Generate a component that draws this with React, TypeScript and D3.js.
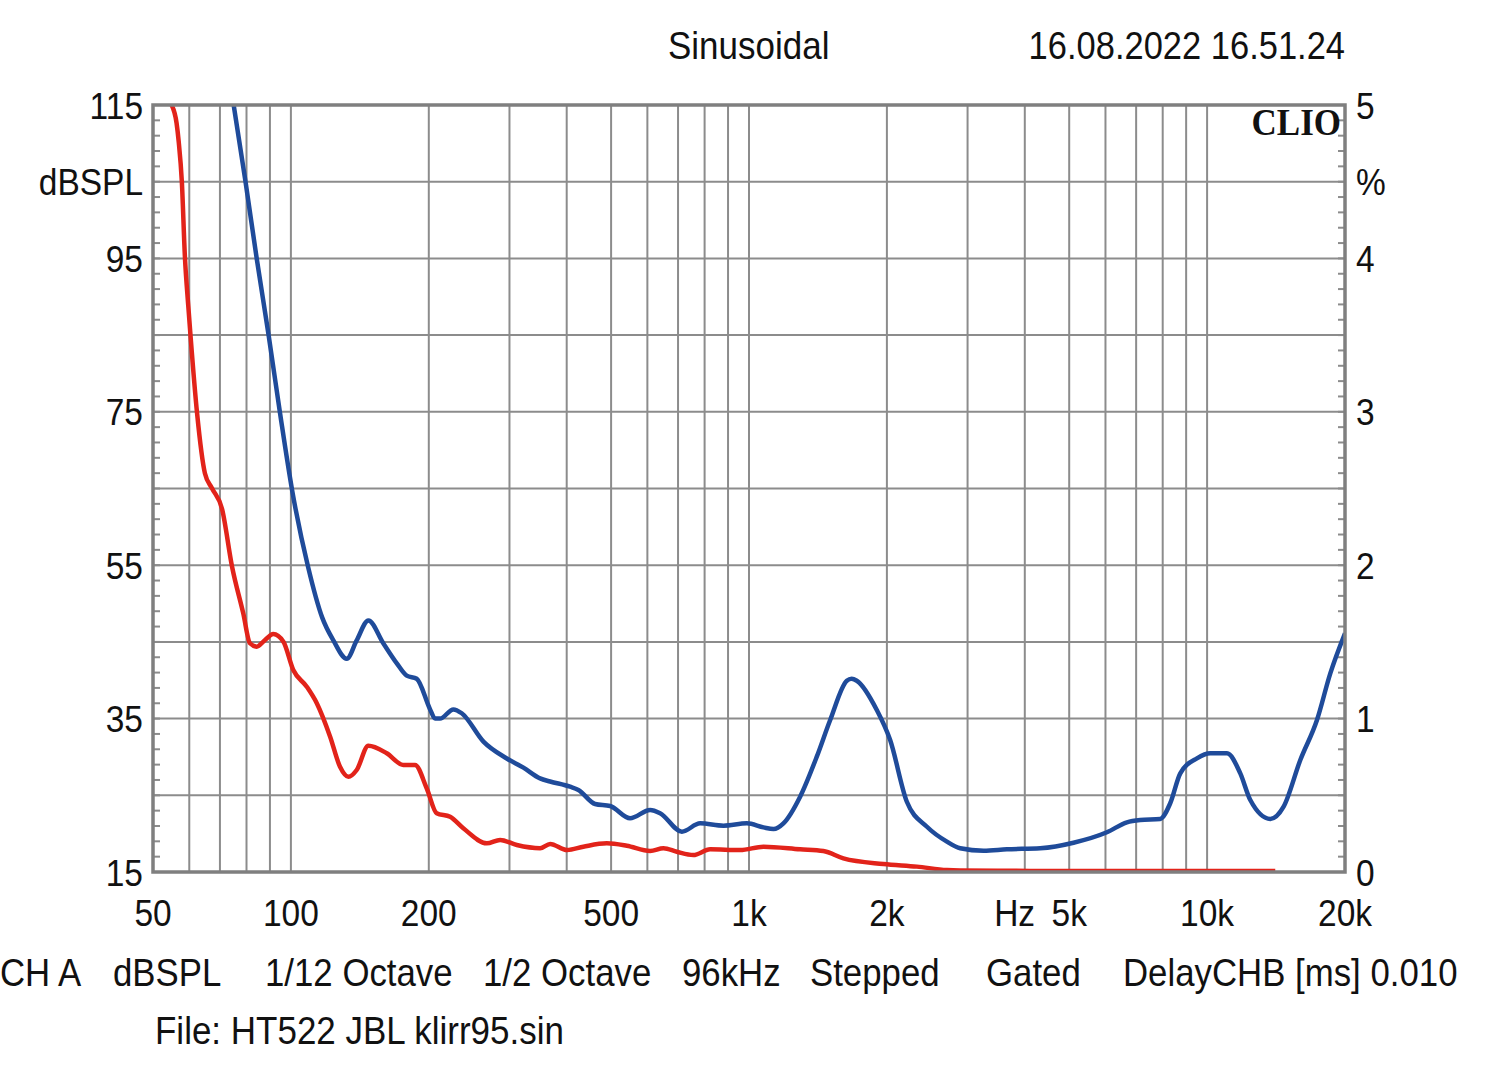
import React from "react";
import * as d3 from "d3";

// ---- data ----
const blueFreq = [75, 79.6, 84.3, 89.4, 94.7, 100.6, 109, 117, 123.8, 132.4, 139.2, 147.6, 159.2, 170.3, 179, 188.2, 201.3, 206.4, 211.6, 226.3, 236, 263.2, 296, 321.8, 349.9, 368, 406.9, 424.2, 461.4, 497.5, 550, 608.4, 639.6, 713.6, 782.2, 879.6, 989.6, 1075.6, 1131, 1189, 1293, 1406, 1504, 1635, 1675, 1719, 1901, 2033, 2211, 2446, 2704, 2891, 3251, 3655, 4322, 5110, 6043, 6683, 7145, 7900, 8308, 8739, 9502, 10163, 11052, 11816, 12425, 13740, 14690, 15976, 17372, 18576, 20000];
const bluePct = [5.0, 4.5, 3.99, 3.5, 2.99, 2.49, 1.99, 1.66, 1.51, 1.39, 1.51, 1.64, 1.49, 1.36, 1.28, 1.26, 1.06, 1.0, 1.0, 1.06, 1.035, 0.85, 0.74, 0.68, 0.61, 0.59, 0.556, 0.535, 0.443, 0.43, 0.35, 0.404, 0.383, 0.263, 0.317, 0.302, 0.317, 0.291, 0.28, 0.317, 0.491, 0.752, 0.991, 1.247, 1.26, 1.247, 1.056, 0.86, 0.458, 0.295, 0.198, 0.155, 0.139, 0.148, 0.155, 0.191, 0.259, 0.324, 0.339, 0.346, 0.448, 0.643, 0.741, 0.774, 0.774, 0.643, 0.469, 0.346, 0.426, 0.73, 0.991, 1.295, 1.556];

const redFreq = [54.9, 56.3, 56.9, 57.8, 58.7, 59.7, 60.4, 62.4, 64.9, 67.3, 70.7, 74.4, 78.7, 81.4, 84.2, 87.8, 91.5, 96.3, 101.2, 108.3, 113.9, 121.8, 128, 133.5, 139.2, 147.6, 161.9, 176, 186.6, 197.9, 208.1, 222.6, 237.9, 267.7, 286.2, 311.3, 349.9, 368, 400.8, 435, 489.3, 541, 608.4, 650.5, 695.8, 756, 822.6, 956.4, 1075.6, 1293, 1453, 1607, 1965, 2325, 2704, 2891, 3500, 5000, 8000, 11000, 14086];
const redPct = [5.0, 4.88, 4.76, 4.5, 4.01, 3.69, 3.49, 2.99, 2.6, 2.5, 2.37, 1.99, 1.686, 1.491, 1.469, 1.512, 1.551, 1.501, 1.317, 1.208, 1.1, 0.882, 0.686, 0.621, 0.665, 0.823, 0.774, 0.698, 0.698, 0.546, 0.383, 0.36, 0.285, 0.187, 0.209, 0.176, 0.155, 0.183, 0.143, 0.165, 0.187, 0.171, 0.137, 0.155, 0.132, 0.111, 0.148, 0.143, 0.165, 0.148, 0.137, 0.089, 0.052, 0.035, 0.013, 0.01, 0.008, 0.007, 0.007, 0.007, 0.007];

const xTickValues = [50, 100, 200, 500, 1000, 2000, 5000, 10000, 20000];
const xTickLabels = ["50", "100", "200", "500", "1k", "2k", "5k", "10k", "20k"];
const leftTickValues = [115, 95, 75, 55, 35, 15];
const rightTickValues = [5, 4, 3, 2, 1, 0];
const bottomInfo = [
  { text: "CH A", x: 0 },
  { text: "dBSPL", x: 113 },
  { text: "1/12 Octave", x: 265 },
  { text: "1/2 Octave", x: 483 },
  { text: "96kHz", x: 682 },
  { text: "Stepped", x: 810 },
  { text: "Gated", x: 986 },
  { text: "DelayCHB [ms] 0.010", x: 1123 },
];

const W = 1500;
const H = 1074;
const L = 153, R = 1345, T = 105, B = 872;
const FONT = "'Liberation Sans', Arial, sans-serif";
const GRID = "#8c8c8c";
const SY = 1.12;

function Txt(props: { x: number; y: number; size: number; anchor?: string; children: React.ReactNode }) {
  const { x, y, size, anchor, children } = props;
  return (
    <text
      transform={`translate(${x},${y}) scale(1,${SY})`}
      dy="0.36em"
      textAnchor={anchor || "start"}
      fontSize={size}
      fontFamily={FONT}
      fill="#111"
    >
      {children}
    </text>
  );
}

export default function App() {
  const x = d3.scaleLog().domain([50, 20000]).range([L, R]);
  const yDb = d3.scaleLinear().domain([15, 115]).range([B, T]);
  const yPct = d3.scaleLinear().domain([0, 5]).range([B, T]);

  const gridFreqs = x.ticks().filter((f) => f > 50 && f < 20000);
  const hGrid = d3.range(15, 116, 10);
  const minor = d3.range(15, 116, 2);

  const line = d3
    .line<[number, number]>()
    .x((d) => x(d[0]))
    .y((d) => yPct(d[1]))
    .curve(d3.curveMonotoneX);

  const blueData = blueFreq.map((f, i) => [f, bluePct[i]] as [number, number]);
  const redData = redFreq.map((f, i) => [f, redPct[i]] as [number, number]);

  return (
    <svg width={W} height={H} style={{ position: "absolute", left: 0, top: 0, background: "#fff" }}>
      <rect x={0} y={0} width={W} height={H} fill="#fff" />
      <defs>
        <clipPath id="plot">
          <rect x={L} y={T} width={R - L} height={B - T} />
        </clipPath>
      </defs>
      {gridFreqs.map((f) => (
        <line key={"v" + f} x1={x(f)} x2={x(f)} y1={T} y2={B} stroke={GRID} strokeWidth={2} />
      ))}
      {hGrid.map((v) => (
        <line key={"h" + v} x1={L} x2={R} y1={yDb(v)} y2={yDb(v)} stroke={GRID} strokeWidth={2} />
      ))}
      {minor.map((v) => (
        <g key={"m" + v}>
          <line x1={L} x2={L + 7} y1={yDb(v)} y2={yDb(v)} stroke={GRID} strokeWidth={2} />
          <line x1={R - 7} x2={R} y1={yDb(v)} y2={yDb(v)} stroke={GRID} strokeWidth={2} />
        </g>
      ))}
      <g clipPath="url(#plot)">
        <path d={line(redData) || ""} fill="none" stroke="#e2231a" strokeWidth={4.5} strokeLinejoin="round" />
        <path d={line(blueData) || ""} fill="none" stroke="#1f4b9a" strokeWidth={4.5} strokeLinejoin="round" />
      </g>
      <rect x={L} y={T} width={R - L} height={B - T} fill="none" stroke="#7f7f7f" strokeWidth={3.5} />

      <text
        transform={`translate(1341,135) scale(1,1.1)`}
        textAnchor="end"
        fontFamily="'Liberation Serif', 'Times New Roman', serif"
        fontWeight="bold"
        fontSize={35}
        fill="#111"
      >
        CLIO
      </text>

      <Txt x={668} y={45} size={35}>Sinusoidal</Txt>
      <Txt x={1345} y={45} size={34.5} anchor="end">16.08.2022 16.51.24</Txt>

      {leftTickValues.map((v) => (
        <Txt key={"l" + v} x={143} y={yDb(v)} size={33.5} anchor="end">{v}</Txt>
      ))}
      <Txt x={143} y={yDb(105)} size={33.5} anchor="end">dBSPL</Txt>

      {rightTickValues.map((v) => (
        <Txt key={"r" + v} x={1356} y={yPct(v)} size={33.5}>{v}</Txt>
      ))}
      <Txt x={1356} y={yPct(4.5)} size={33.5}>%</Txt>

      {xTickValues.map((f, i) => (
        <Txt key={"x" + f} x={x(f)} y={912} size={33.5} anchor="middle">{xTickLabels[i]}</Txt>
      ))}
      <Txt x={x(3800)} y={912} size={33.5} anchor="middle">Hz</Txt>

      {bottomInfo.map((b) => (
        <Txt key={b.text} x={b.x} y={972} size={34.8}>{b.text}</Txt>
      ))}
      <Txt x={155} y={1030} size={35}>File: HT522 JBL klirr95.sin</Txt>
    </svg>
  );
}
